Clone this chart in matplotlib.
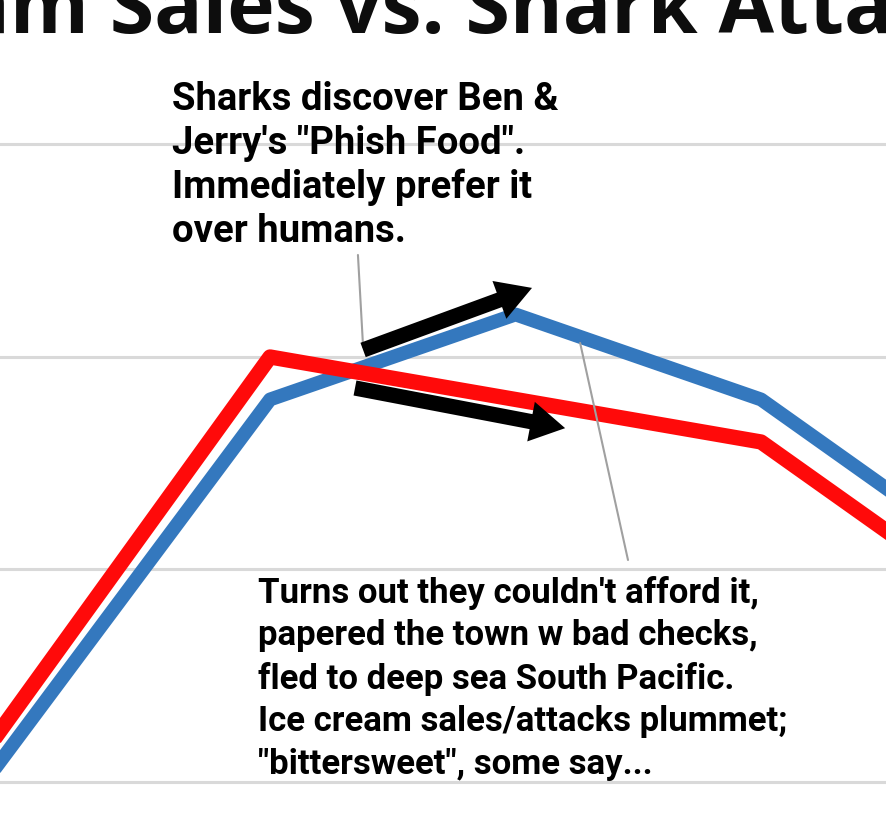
import matplotlib
matplotlib.use("Agg")
import matplotlib.pyplot as plt

# =====================================
# DATA (cropped view of the original chart)
# =====================================

months = [2, 3, 4, 5, 6, 7]
ice_cream_sales = [14, 45, 76, 84, 76, 59.6]
shark_attacks = [16, 48, 80, 76, 72, 55.6]
grid_values = [40, 60, 80, 100]

title = "Ice Cream Sales vs. Shark Attacks"
note_top = 'Sharks discover Ben &\nJerry\'s "Phish Food".\nImmediately prefer it\nover humans.'
note_bottom = ("Turns out they couldn't afford it,\n"
               "papered the town w bad checks,\n"
               "fled to deep sea South Pacific.\n"
               "Ice cream sales/attacks plummet;\n"
               '"bittersweet", some say...')

# =====================================
# FIGURE
# =====================================

fig = plt.figure(figsize=(8.87, 8.17), dpi=100)
ax = fig.add_axes([0, 0, 1, 1])
ax.set_xlim(2.9, 6.513)
ax.set_ylim(36.7, 113.6)
ax.axis("off")

for g in grid_values:
    ax.axhline(g, color="#d9d9d9", lw=2.2, zorder=1)

ax.plot(months, ice_cream_sales, color="#3478be", lw=10,
        solid_joinstyle="round", zorder=2)
ax.plot(months, shark_attacks, color="#ff0a0a", lw=11,
        solid_joinstyle="round", zorder=3)

# arrows
arrow_style = "simple,head_length=25,head_width=29,tail_width=11"
ax.annotate("", xy=(5.067, 86.5), xytext=(4.379, 80.66),
            arrowprops=dict(arrowstyle=arrow_style, mutation_scale=1,
                            color="black", lw=0, shrinkA=0, shrinkB=0),
            zorder=5)
ax.annotate("", xy=(5.202, 73.3), xytext=(4.346, 77.08),
            arrowprops=dict(arrowstyle=arrow_style, mutation_scale=1,
                            color="black", lw=0, shrinkA=0, shrinkB=0),
            zorder=5)

# leader lines
ax.annotate("", xy=(4.379, 80.94), xytext=(4.358, 89.6),
            arrowprops=dict(arrowstyle="-", color="#a0a0a0", lw=1.5,
                            shrinkA=0, shrinkB=0), zorder=4)
ax.annotate("", xy=(5.458, 60.89), xytext=(5.263, 81.32),
            arrowprops=dict(arrowstyle="-", color="#a0a0a0", lw=1.5,
                            shrinkA=0, shrinkB=0), zorder=4)

# notes
ax.text(3.601, 106.0, note_top, family="Roboto", weight="bold",
        fontsize=27.5, va="top", ha="left", linespacing=1.24, zorder=6)
ax.text(3.951, 59.4, note_bottom, family="Roboto", weight="bold",
        fontsize=25, va="top", ha="left", linespacing=1.36, zorder=6)

# title, cut by the top edge
ax.text(4.354, 110.5, title, family="Open Sans", weight="bold",
        fontsize=58, color="#0d0d0d", ha="center", va="baseline",
        clip_on=False)

fig.savefig("out.png", dpi=100)
